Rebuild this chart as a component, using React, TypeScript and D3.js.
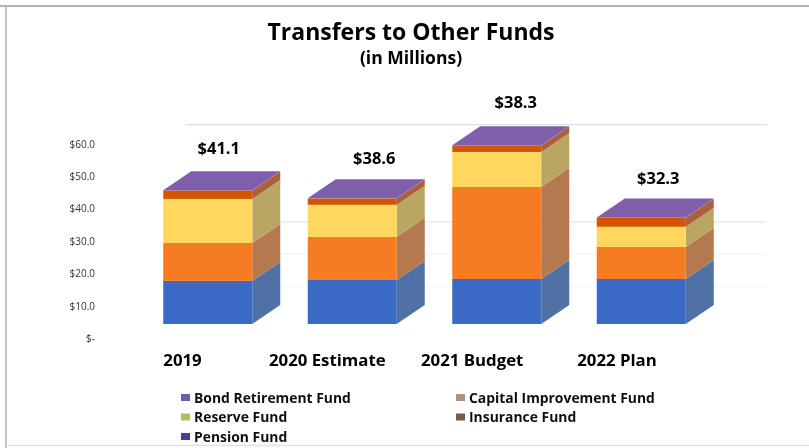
import React from "react";
import * as d3 from "d3";

const categories = ["2019", "2020 Estimate", "2021 Budget", "2022 Plan"];
const totals = ["$41.1", "$38.6", "$38.3", "$32.3"];
const seriesNames = ["Bond Retirement Fund", "Capital Improvement Fund", "Reserve Fund", "Insurance Fund", "Pension Fund"];
const bondRetirement = [13.3, 13.6, 13.9, 13.9];
const capitalImprovement = [11.7, 13.3, 28.4, 9.9];
const reserve = [13.6, 9.9, 10.8, 6.2];
const insurance = [2.6, 1.9, 2.0, 2.8];
const pension = [0.1, 0.1, 0.1, 0.1];
const axisTicks = [0, 10, 20, 30, 40, 50, 60];
const gridValues = [60, 30, 20, 10];

const frontColors = ["#3a6bc6", "#f57c22", "#ffd75e", "#d25400", "#7f5fa9"];
const sideColors = ["#4f71a3", "#b4794d", "#b9a664", "#a9603a", "#7f5fa9"];
const swatchColors = ["#6a60a8", "#a89282", "#b4bc60", "#7c5a44", "#4a3a90"];
const gridColors = ["#dedede", "#e6e6e6", "#f3f3f3", "#f5f5f5"];

const W = 809, H = 448, DX = 28, DY = 19;
const FONT = "'Open Sans', 'Noto Sans', sans-serif";

export default function App() {
  const values = [bondRetirement, capitalImprovement, reserve, insurance, pension];
  const rows = categories.map((c, i) => {
    const r: Record<string, any> = { c };
    seriesNames.forEach((s, k) => (r[s] = values[k][i]));
    return r;
  });
  const stacked = d3.stack().keys(seriesNames)(rows as any);

  const x = d3.scaleBand().domain(categories).range([135.5, 713.5]).paddingInner(0.384).paddingOuter(0.192);
  const y = d3.scaleLinear().domain([0, 60]).range([324, 129.6]);
  const bw = x.bandwidth();
  const catX = d3.scalePoint().domain(categories).range([182.5, 617]);
  const totalY = [148, 158, 102, 178];
  const totalDx = [11, 22, 19, 17];
  const path = d3.line();

  const legendPos = [[181, 397.5], [456, 397.5], [181, 417], [456, 417], [181, 436.5]];

  return (
    <svg width={W} height={H} style={{ position: "absolute", left: 0, top: 0, display: "block", background: "#fff" }}>
      <defs>
        <filter id="soft" x="-5%" y="-5%" width="110%" height="110%">
          <feGaussianBlur stdDeviation="0.7" />
        </filter>
      </defs>
      <g filter="url(#soft)">
        <rect x={0} y={0} width={W} height={H} fill="#fff" />
        <line x1={0} x2={W} y1={6} y2={6} stroke="#9a9a9a" strokeWidth={1.6} />
        <line x1={6} x2={6} y1={6} y2={H} stroke="#b4b4b4" strokeWidth={1.6} />
        <line x1={6} x2={W} y1={445.5} y2={445.5} stroke="#e2e2e2" strokeWidth={1.5} />

        {gridValues.map((v, i) => (
          <line key={v} x1={186} x2={767} y1={y(v) - 5} y2={y(v) - 5} stroke={gridColors[i]} strokeWidth={1.2} />
        ))}

        <text x={411} y={40} textAnchor="middle" fontFamily={FONT} fontWeight={700} fontSize={23} fill="#000">Transfers to Other Funds</text>
        <text x={411} y={64} textAnchor="middle" fontFamily={FONT} fontWeight={700} fontSize={17.5} fill="#000">(in Millions)</text>

        {axisTicks.map((t) => (
          <text key={t} x={95} y={y(t) + 15 + 3} textAnchor="end" fontFamily={FONT} fontSize={10} fill="#333">
            {t === 0 ? "$-" : `$${t.toFixed(1)}`}
          </text>
        ))}

        {categories.map((c, i) => {
          const x0 = x(c)!;
          return (
            <g key={c}>
              {stacked.map((s, k) => {
                const [a, b] = s[i];
                const y0 = y(a), y1 = y(b);
                return (
                  <g key={k}>
                    <path
                      d={path([[x0 + bw, y0], [x0 + bw + DX, y0 - DY], [x0 + bw + DX, y1 - DY], [x0 + bw, y1]])! + "Z"}
                      fill={sideColors[k]}
                    />
                    <rect x={x0} y={y1} width={bw} height={y0 - y1} fill={frontColors[k]} />
                  </g>
                );
              })}
              {(() => {
                const top = y(stacked[stacked.length - 1][i][1]);
                return (
                  <path
                    d={path([[x0, top], [x0 + DX, top - DY], [x0 + bw + DX, top - DY], [x0 + bw, top]])! + "Z"}
                    fill={frontColors[4]}
                  />
                );
              })()}
              <text x={x0 + bw / 2 + totalDx[i]} y={totalY[i] + 6} textAnchor="middle" fontFamily={FONT} fontWeight={700} fontSize={16.5} fill="#000">
                {totals[i]}
              </text>
              <text x={catX(c)!} y={366} textAnchor="middle" fontFamily={FONT} fontWeight={700} fontSize={16.8} fill="#000">
                {c}
              </text>
            </g>
          );
        })}

        {seriesNames.map((s, i) => (
          <g key={s}>
            <rect x={legendPos[i][0]} y={legendPos[i][1] - 3.5} width={9} height={7} fill={swatchColors[i]} />
            <text x={legendPos[i][0] + 13} y={legendPos[i][1] + 5} fontFamily={FONT} fontWeight={700} fontSize={13.9} fill="#111">
              {s}
            </text>
          </g>
        ))}
      </g>
    </svg>
  );
}
